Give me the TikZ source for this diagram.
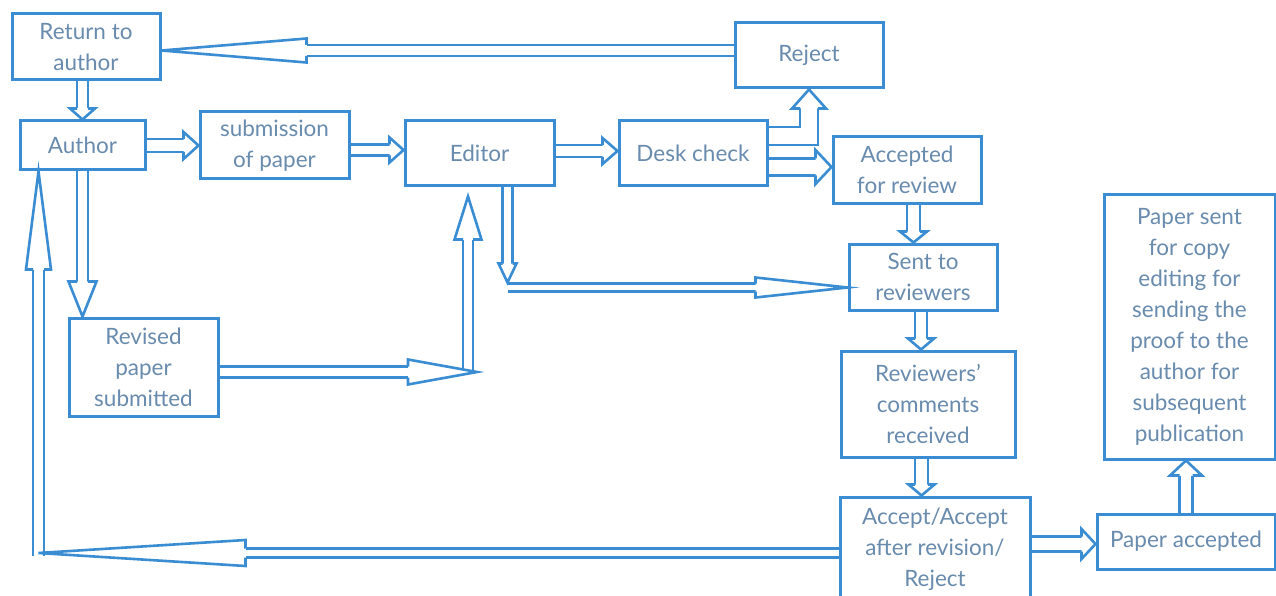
\documentclass[tikz,border=0pt]{standalone}
\usepackage{fontspec}
\setmainfont{Lato}
\usetikzlibrary{calc,backgrounds}
\definecolor{boxblue}{RGB}{58,141,210}
\definecolor{txtblue}{RGB}{104,139,174}
\def\hlw{2.6pt}
\tikzset{
  hollow/.style={draw=boxblue, line width=\hlw, line join=miter},
  box/.style={draw=boxblue, line width=3pt, inner sep=0pt, align=center,
    text=txtblue, font=\fontsize{22.5}{31}\selectfont},
}
% #1 base, #2 tip, #3 half shaft, #4 half head
\newcommand{\hollowhead}[4]{%
  \filldraw[hollow,fill=white] ($(#1)!#3!90:(#2)$) -- ($(#1)!#4!90:(#2)$) -- (#2)
    -- ($(#1)!#4!-90:(#2)$) -- ($(#1)!#3!-90:(#2)$);}
% #1 start, #2 tip, #3 s, #4 h, #5 head length
\newcommand{\harrow}[5]{%
  \coordinate (hb) at ($(#2)!#5!(#1)$);
  \pgfmathsetlengthmacro\hdd{2*#3-\hlw}%
  \draw[hollow,double=white,double distance=\hdd] (#1) -- (hb);
  \hollowhead{hb}{#2}{#3}{#4}}
% #1 start, #2 corner, #3 tip, #4 s, #5 h, #6 head length
\newcommand{\harrowel}[6]{%
  \coordinate (hb) at ($(#3)!#6!(#2)$);
  \pgfmathsetlengthmacro\hdd{2*#4-\hlw}%
  \draw[hollow,double=white,double distance=\hdd] (#1) -- (#2) -- (hb);
  \hollowhead{hb}{#3}{#4}{#5}}
\begin{document}
\begin{tikzpicture}[x=1pt,y=-1pt]
\useasboundingbox (0,0) rectangle (1276,596);
\clip (0,0) rectangle (1276,596);

\node[box, minimum width=148pt, minimum height=66pt] (ret) at (86,47) {Return to\\author};
\node[box, minimum width=148pt, minimum height=65pt] (rej) at (809,55.5) {Reject};
\node[box, minimum width=125pt, minimum height=49pt] (auth) at (82.5,145.5) {Author};
\node[box, minimum width=149pt, minimum height=67pt] (sub) at (274.5,145.5) {submission\\of paper};
\node[box, minimum width=149pt, minimum height=65pt] (ed) at (479.5,153.5) {Editor};
\node[box, minimum width=148pt, minimum height=65pt] (desk) at (693,153.5) {Desk check};
\node[box, minimum width=148pt, minimum height=66pt] (accrev) at (907,170) {Accepted\\for review};
\node[box, minimum width=148pt, minimum height=66pt] (sent) at (923,277) {Sent to\\reviewers};
\node[box, minimum width=174pt, minimum height=106pt] (revcom) at (928,404) {Reviewers'\\comments\\received};
\node[box, minimum width=190pt, minimum height=104pt] (dec) at (935,549) {Accept/Accept\\after revision/\\Reject};
\node[box, minimum width=178pt, minimum height=55pt] (pacc) at (1186,541.5) {Paper accepted};
\node[box, minimum width=171pt, minimum height=264pt] (psent) at (1189.5,327) {Paper sent\\for copy\\editing for\\sending the\\proof to the\\author for\\subsequent\\publication};
\node[box, minimum width=149pt, minimum height=98pt] (rev) at (143.5,367) {Revised\\paper\\submitted};

\begin{scope}[on background layer]
\fill[white] (0,0) rectangle (1276,596);
% Reject -> Return to author
\coordinate (a1s) at ($(rej.west)+(0,-5)$);
\coordinate (a1t) at (a1s -| ret.east);
\harrow{a1s}{a1t}{5.5pt}{12pt}{145pt}
% Return to author -> Author
\coordinate (a2s) at (auth.north |- ret.south);
\harrow{a2s}{auth.north}{5.5pt}{12.5pt}{11pt}
% Author -> submission
\coordinate (a3t) at (auth.east -| sub.west);
\harrow{auth.east}{a3t}{6.5pt}{13.5pt}{15pt}
% submission -> Editor
\coordinate (a4s) at ($(sub.east)+(0,4.5)$);
\coordinate (a4t) at (a4s -| ed.west);
\harrow{a4s}{a4t}{5.5pt}{12.5pt}{14pt}
% Editor -> Desk check
\coordinate (a5s) at ($(ed.east)+(0,-2.5)$);
\coordinate (a5t) at (a5s -| desk.west);
\harrow{a5s}{a5t}{6pt}{13pt}{15pt}
% Desk check -> Reject
\coordinate (a6s) at ($(desk.east)+(0,-17.5)$);
\coordinate (a6c) at (rej.south |- a6s);
\harrowel{a6s}{a6c}{rej.south}{9pt}{17pt}{19pt}
% Desk check -> Accepted for review
\coordinate (a7s) at ($(desk.east)+(0,13.5)$);
\coordinate (a7t) at (a7s -| accrev.west);
\harrow{a7s}{a7t}{8.5pt}{17pt}{16pt}
% Editor -> Sent to reviewers
\coordinate (a8s) at ($(ed.south)+(28,0)$);
\coordinate (a8t) at ($(a8s)+(0,95)$);
\coordinate (a8h) at ($(a8t)+(0,5)$);
\coordinate (a8e) at (a8h -| sent.west);
\harrow{a8h}{a8e}{4pt}{10pt}{92pt}
\harrow{a8s}{a8t}{5pt}{9pt}{19pt}
% Revised paper -> Editor
\coordinate (a9s) at ($(rev.east)+(0,5)$);
\coordinate (a9v) at ($(ed.south)+(-11.5,9)$);
\coordinate (a9j) at (a9v |- a9s);
\coordinate (a9x) at ($(a9j)+(9,0)$);
\harrow{a9j}{a9v}{5pt}{13.5pt}{43pt}
\harrow{a9s}{a9x}{5.5pt}{12.5pt}{69pt}
% Author -> Revised paper
\coordinate (a10t) at (auth.south |- rev.north);
\harrow{auth.south}{a10t}{5.5pt}{14pt}{35pt}
% Decision -> Author
\coordinate (a11s) at ($(dec.west)+(0,4)$);
\coordinate (a11v) at ($(auth.south west)+(20,0)$);
\coordinate (a11t) at (a11v |- a11s);
\coordinate (a11b) at ($(a11t)+(0,3)$);
\harrow{a11b}{a11v}{5.5pt}{12.5pt}{98pt}
\harrow{a11s}{a11t}{4.5pt}{13pt}{207pt}
% Sent to reviewers -> Reviewers' comments
\coordinate (a12s) at ($(sent.south)+(-2,0)$);
\coordinate (a12t) at (a12s |- revcom.north);
\harrow{a12s}{a12t}{6pt}{13pt}{11pt}
% Accepted for review -> Sent to reviewers
\coordinate (a13s) at ($(accrev.south)+(6.5,0)$);
\coordinate (a13t) at (a13s |- sent.north);
\harrow{a13s}{a13t}{6.5pt}{13.5pt}{11pt}
% Reviewers' comments -> Decision
\coordinate (a14s) at ($(revcom.south)+(-6.5,0)$);
\coordinate (a14t) at (a14s |- dec.north);
\harrow{a14s}{a14t}{6.5pt}{13pt}{11pt}
% Decision -> Paper accepted
\coordinate (a15s) at ($(dec.east)+(0,-5)$);
\coordinate (a15t) at (a15s -| pacc.west);
\harrow{a15s}{a15t}{7.5pt}{15pt}{14pt}
% Paper accepted -> Paper sent
\coordinate (a16t) at (pacc.north |- psent.south);
\harrow{pacc.north}{a16t}{6.5pt}{16pt}{15pt}
\end{scope}
\end{tikzpicture}
\end{document}
